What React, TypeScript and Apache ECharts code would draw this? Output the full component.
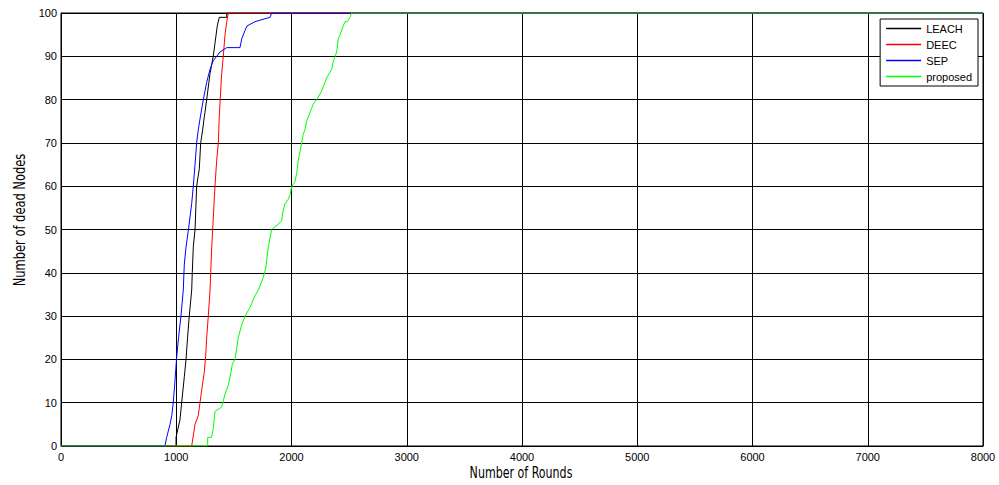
import React, { useEffect, useRef } from "react";
import * as echarts from "echarts";

const seriesNames = ["LEACH", "DEEC", "SEP", "proposed"];
const seriesColors = ["#000000", "#ff0000", "#0000ff", "#00ff00"];

const xTicksMax = 8000;
const yTicksMax = 100;
const xTitle = "Number of Rounds";
const yTitle = "Number of dead Nodes";

const leachRounds = [0, 998, 998, 1032, 1047, 1070, 1085, 1098, 1113, 1134, 1139, 1148, 1163, 1177, 1200, 1212, 1229, 1243, 1249, 1264, 1293, 1321, 1336, 1356, 1373, 1438, 1438, 8000];
const leachDead = [0, 0, 2, 6, 10, 16, 20, 25, 30, 36, 40, 46, 50, 60, 64, 70, 73, 76, 77, 80, 86, 90, 93, 97, 99, 99, 100, 100];

const deecRounds = [0, 1134, 1163, 1191, 1206, 1221, 1243, 1256, 1264, 1278, 1293, 1299, 1308, 1316, 1336, 1351, 1365, 1373, 1394, 1408, 1423, 1438, 1452, 8000];
const deecDead = [0, 0, 5, 7, 10, 13, 17, 21, 25, 30, 36, 40, 46, 50, 60, 66, 70, 76, 86, 90, 95, 98, 100, 100];

const sepRounds = [0, 902, 917, 946, 961, 974, 989, 1002, 1020, 1041, 1061, 1070, 1085, 1106, 1134, 1148, 1163, 1177, 1191, 1209, 1235, 1264, 1293, 1321, 1351, 1380, 1438, 1553, 1568, 1597, 1614, 1683, 1813, 1829, 8000];
const sepDead = [0, 0, 2, 5, 7, 10, 15, 20, 25, 30, 36, 42, 46, 50, 56, 60, 65, 70, 73, 76, 80, 84, 87, 89, 90, 91, 92, 92, 94, 96, 97, 98, 99, 100, 100];

const proposedRounds = [0, 1273, 1273, 1307, 1321, 1336, 1394, 1423, 1452, 1475, 1487, 1510, 1538, 1568, 1597, 1640, 1655, 1689, 1712, 1741, 1756, 1776, 1785, 1799, 1813, 1828, 1874, 1915, 1924, 1944, 1972, 1987, 2002, 2030, 2045, 2059, 2074, 2088, 2102, 2117, 2131, 2175, 2189, 2218, 2262, 2276, 2305, 2349, 2363, 2378, 2392, 2406, 2421, 2449, 2464, 2484, 2507, 2522, 8000];
const proposedDead = [0, 0, 2, 2, 4, 8, 9, 12, 14, 17, 19, 20, 25, 28, 30, 32, 33, 35, 36, 38, 39, 41, 43, 46, 48, 50, 51, 52, 54, 56, 57, 58, 60, 61, 63, 66, 68, 70, 72, 73, 75, 78, 79, 80, 82, 83, 85, 87, 89, 90, 91, 94, 95, 97, 98, 98, 99, 100, 100];

const zip = (xs: number[], ys: number[]) => xs.map((x, i) => [x, ys[i]]);

export default function App() {
  const ref = useRef<HTMLDivElement>(null);
  useEffect(() => {
    if (!ref.current) return;
    const chart = echarts.init(ref.current, undefined, { renderer: "svg" });
    const all = [
      zip(leachRounds, leachDead),
      zip(deecRounds, deecDead),
      zip(sepRounds, sepDead),
      zip(proposedRounds, proposedDead),
    ];
    const tickFont = "'Liberation Sans', Arial, sans-serif";
    const titleFont = "'DejaVu Sans Condensed', 'Liberation Sans', sans-serif";
    chart.setOption({
      animation: false,
      backgroundColor: "#ffffff",
      grid: {
        left: 61,
        right: 16,
        top: 13,
        bottom: 39,
        show: true,
        borderColor: "#000",
        borderWidth: 1,
        backgroundColor: "transparent",
      },
      legend: {
        data: seriesNames,
        orient: "vertical",
        right: 21,
        top: 19,
        backgroundColor: "#fff",
        borderColor: "#000",
        borderWidth: 1,
        borderRadius: 0,
        padding: [3, 6, 3, 6],
        itemGap: 3,
        itemWidth: 35,
        itemHeight: 1.6,
        icon: "rect",
        textStyle: { color: "#000", fontSize: 11, fontFamily: tickFont, lineHeight: 13 },
      },
      graphic: [
        {
          type: "text",
          x: 521,
          y: 473,
          scaleX: 0.82,
          style: {
            text: xTitle,
            fill: "#000",
            font: `15px ${titleFont}`,
            align: "center",
            verticalAlign: "middle",
          },
        },
        {
          type: "text",
          x: 20,
          y: 220,
          rotation: Math.PI / 2,
          scaleX: 0.85,
          style: {
            text: yTitle,
            fill: "#000",
            font: `15px ${titleFont}`,
            align: "center",
            verticalAlign: "middle",
          },
        },
      ],
      xAxis: {
        type: "value",
        min: 0,
        max: xTicksMax,
        interval: 1000,
        axisLine: { show: true, lineStyle: { color: "#000", width: 1 } },
        axisTick: { show: false },
        axisLabel: {
          color: "#000",
          fontSize: 11,
          fontFamily: tickFont,
          margin: 5,
          formatter: (v: number) => String(v),
        },
        splitLine: { show: true, lineStyle: { color: "#000", width: 1 } },
      },
      yAxis: {
        type: "value",
        min: 0,
        max: yTicksMax,
        interval: 10,
        axisLine: { show: true, lineStyle: { color: "#000", width: 1 } },
        axisTick: { show: false },
        axisLabel: {
          color: "#000",
          fontSize: 11,
          fontFamily: tickFont,
          margin: 4,
          formatter: (v: number) => String(v),
        },
        splitLine: { show: true, lineStyle: { color: "#000", width: 1 } },
      },
      series: all.map((d, i) => ({
        name: seriesNames[i],
        type: "line",
        data: d,
        symbol: "none",
        showSymbol: false,
        color: seriesColors[i],
        itemStyle: { color: seriesColors[i] },
        lineStyle: { color: seriesColors[i], width: 1 },
        z: 3 + i,
      })),
    });
    return () => chart.dispose();
  }, []);
  return (
    <div
      ref={ref}
      style={{ position: "fixed", left: 0, top: 0, width: 999, height: 485 }}
    />
  );
}
